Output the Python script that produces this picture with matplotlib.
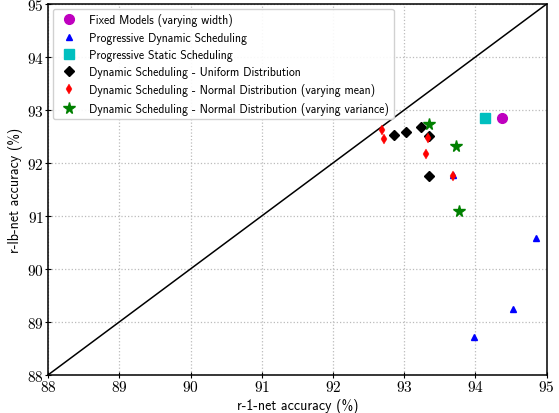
"""
r-1-net vs r-lb-net accuracy for different scheduling strategies.
"""
import matplotlib
matplotlib.use("Agg")
import matplotlib.pyplot as plt
from matplotlib.ticker import FuncFormatter

plt.rcParams["mathtext.fontset"] = "cm"
plt.rcParams["font.family"] = ["cmss10", "DejaVu Sans"]
plt.rcParams["axes.unicode_minus"] = False

# (r-1-net acc, r-lb-net acc) per method
fixed_x = [94.37]
fixed_y = [92.85]
prog_dyn_x = [93.69, 93.98, 94.52, 94.85]
prog_dyn_y = [91.77, 88.72, 89.24, 90.59]
prog_static_x = [94.14]
prog_static_y = [92.85]
uniform_x = [92.85, 93.03, 93.23, 93.35, 93.35]
uniform_y = [92.52, 92.59, 92.68, 92.50, 91.75]
normal_mean_x = [92.69, 92.71, 93.33, 93.31, 93.69]
normal_mean_y = [92.63, 92.45, 92.48, 92.17, 91.75]
normal_var_x = [93.35, 93.72, 93.77]
normal_var_y = [92.74, 92.32, 91.09]

fig = plt.figure(figsize=(5.59, 4.14), dpi=100)
ax = fig.add_axes([0.086, 0.092, 0.892, 0.896])

ax.plot([88, 95], [88, 95], color="black", linewidth=1.1, zorder=2)

ax.plot(fixed_x, fixed_y, "o", color="m", markersize=7, linestyle="none",
        label="Fixed Models (varying width)", zorder=3)
ax.plot(prog_dyn_x, prog_dyn_y, "^", color="b", markersize=5, linestyle="none",
        label="Progressive Dynamic Scheduling", zorder=3)
ax.plot(prog_static_x, prog_static_y, "s", color="c", markersize=6.5, linestyle="none",
        label="Progressive Static Scheduling", zorder=3)
ax.plot(uniform_x, uniform_y, "D", color="black", markersize=4.8, linestyle="none",
        label="Dynamic Scheduling - Uniform Distribution", zorder=3)
ax.plot(normal_mean_x, normal_mean_y, "d", color="red", markersize=5.5, markeredgewidth=0.3,
        linestyle="none", label="Dynamic Scheduling - Normal Distribution (varying mean)", zorder=4)
ax.plot(normal_var_x, normal_var_y, "*", color="green", markersize=8.5, linestyle="none",
        label="Dynamic Scheduling - Normal Distribution (varying variance)", zorder=3)

ax.set_xlim(88, 95)
ax.set_ylim(88, 95)
ax.set_xticks(range(88, 96))
ax.set_yticks(range(88, 96))
fmt = FuncFormatter(lambda v, _: f"${v:.0f}$")
ax.xaxis.set_major_formatter(fmt)
ax.yaxis.set_major_formatter(fmt)
ax.tick_params(direction="inout", labelsize=11, length=4, pad=1)
ax.grid(True, linestyle=":", color="#bbbbbb", linewidth=0.9)
ax.set_axisbelow(True)
for s in ax.spines.values():
    s.set_linewidth(1.1)

ax.set_xlabel("r-1-net accuracy (%)", fontsize=10, labelpad=3)
ax.set_ylabel("r-lb-net accuracy (%)", fontsize=10, labelpad=3)

ax.legend(loc="upper left", fontsize=8.45, numpoints=1, framealpha=0.9,
          edgecolor="#cccccc", borderaxespad=0.4, handletextpad=0.7,
          labelspacing=0.45)

fig.savefig("out.png", dpi=100)
